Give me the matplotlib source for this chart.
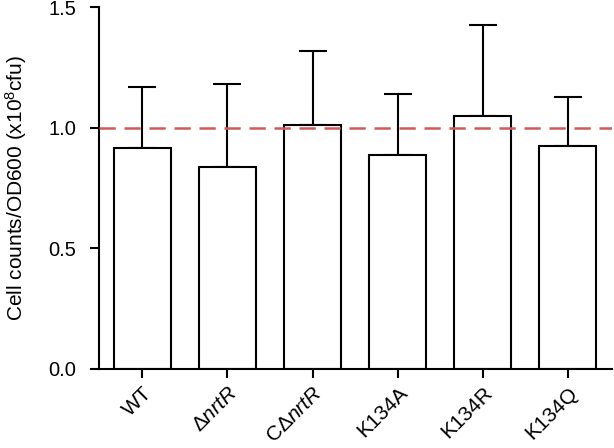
import matplotlib
matplotlib.use("Agg")
import matplotlib.pyplot as plt
import numpy as np

categories = ["WT", "Δ$\\mathit{nrtR}$", "CΔ$\\mathit{nrtR}$", "K134A", "K134R", "K134Q"]
means = [0.914, 0.836, 1.010, 0.887, 1.049, 0.924]
upper = [1.170, 1.180, 1.320, 1.140, 1.425, 1.129]
yticks = [0.0, 0.5, 1.0, 1.5]
ref_line = 1.0

plt.rcParams['font.family'] = ['Liberation Sans', 'DejaVu Sans']
plt.rcParams['mathtext.fontset'] = 'custom'
plt.rcParams['mathtext.rm'] = 'Liberation Sans'
plt.rcParams['mathtext.it'] = 'Liberation Sans:italic'

fig = plt.figure(figsize=(6.14, 4.48), dpi=100)
ax = fig.add_axes([0.161, 0.177, 0.836, 0.807])

x = np.arange(len(categories))
err = np.array(upper) - np.array(means)
ax.bar(x, means, width=0.67, color='white', edgecolor='black', linewidth=1.5, zorder=2)
ax.errorbar(x, means, yerr=[np.zeros(len(err)), err], fmt='none', ecolor='black',
            elinewidth=1.5, capsize=10, capthick=1.5, zorder=1)
ax.axhline(ref_line, color='#d05a5a', linewidth=1.8, dashes=(6.5, 3.5), zorder=3)

ax.set_xlim(-0.51, 5.52)
ax.set_ylim(0, 1.5)
ax.set_yticks(yticks)
ax.set_yticklabels([f"{v:.1f}" for v in yticks])
ax.set_xticks(x)
ax.set_xticklabels(categories, rotation=45, ha='right', rotation_mode='anchor')

for s in ['top', 'right']:
    ax.spines[s].set_visible(False)
for s in ['left', 'bottom']:
    ax.spines[s].set_linewidth(1.5)
ax.tick_params(axis='both', length=6.5, width=1.5)
ax.tick_params(axis='y', pad=10, labelsize=14.5)
ax.tick_params(axis='x', pad=4, labelsize=15)
ax.set_ylabel("Cell counts/OD600 (x10$^8$cfu)", fontsize=15, labelpad=14)

fig.savefig("out.png", dpi=100)
